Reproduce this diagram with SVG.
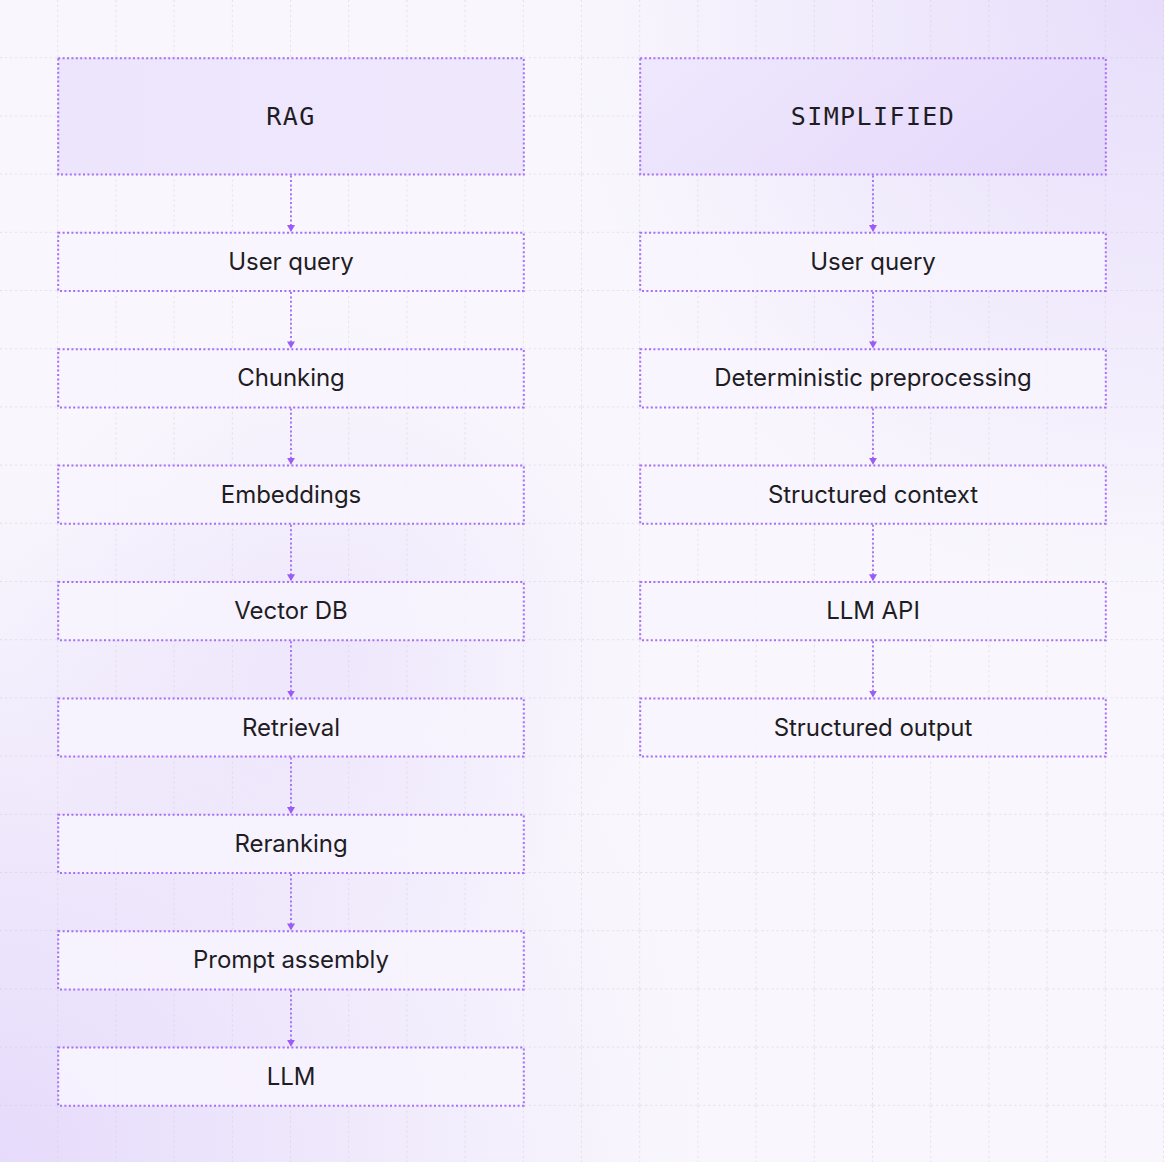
<svg xmlns="http://www.w3.org/2000/svg" width="1164" height="1162" viewBox="0 0 1164 1162">
<defs>
<radialGradient id="bgBL" cx="0" cy="1162" r="700" gradientUnits="userSpaceOnUse">
<stop offset="0" stop-color="#e6dbfb"/><stop offset="1" stop-color="#e6dbfb" stop-opacity="0"/>
</radialGradient>
<radialGradient id="bgTR" cx="1164" cy="0" r="600" gradientUnits="userSpaceOnUse">
<stop offset="0" stop-color="#e7ddfb"/><stop offset="1" stop-color="#e7ddfb" stop-opacity="0"/>
</radialGradient>
<radialGradient id="bgMid" cx="330" cy="640" r="320" gradientUnits="userSpaceOnUse">
<stop offset="0" stop-color="#efe8fc"/><stop offset="1" stop-color="#efe8fc" stop-opacity="0"/>
</radialGradient>
<linearGradient id="hdrL" x1="0" y1="0" x2="1" y2="0">
<stop offset="0" stop-color="#ede5fc"/><stop offset="1" stop-color="#efe8fd"/>
</linearGradient>
<linearGradient id="hdrR" x1="0" y1="0" x2="1" y2="0.3">
<stop offset="0" stop-color="#efe8fd"/><stop offset="1" stop-color="#e6dafb"/>
</linearGradient>
<pattern id="grid" width="58.2" height="58.2" patternUnits="userSpaceOnUse">
<path d="M58.2 0V58.2M0 58.2H58.2" fill="none" stroke="#ccc6d6" stroke-width="1" stroke-dasharray="2 3"/>
</pattern>
<marker id="arr" viewBox="0 0 7 8" refX="7" refY="4" markerWidth="7" markerHeight="8" markerUnits="userSpaceOnUse" orient="auto">
<path d="M0 0L7 4L0 8Z" fill="#9b5cf6"/>
</marker>
</defs>
<style>
.node rect{fill:#f8f5fe;fill-opacity:0.85;stroke:#a56ff7;stroke-width:2;stroke-dasharray:2 2.4}
.hdr rect{stroke:#a56ff7;stroke-width:2;stroke-dasharray:2 2.4}
.hdr text{font-family:"DejaVu Sans Mono","Liberation Mono",monospace;font-size:25px;letter-spacing:1.4px;fill:#1f1d24;text-anchor:middle}
.node text{font-family:Inter,"Liberation Sans",sans-serif;font-size:24px;letter-spacing:-0.05px;fill:#1f1d24;text-anchor:middle}
.conn line{stroke:#a06af6;stroke-width:1.8;stroke-dasharray:2 2.4;marker-end:url(#arr)}
</style>
<rect width="1164" height="1162" fill="#f9f7fd"/>
<rect width="1164" height="1162" fill="url(#bgMid)"/>
<rect width="1164" height="1162" fill="url(#bgBL)"/>
<rect width="1164" height="1162" fill="url(#bgTR)"/>
<rect width="1164" height="1162" fill="url(#grid)"/>

<g id="connectors" class="conn">
<line x1="291" y1="175.6" x2="291" y2="232"/>
<line x1="291" y1="292" x2="291" y2="348.4"/>
<line x1="291" y1="408.4" x2="291" y2="464.8"/>
<line x1="291" y1="524.8" x2="291" y2="581.2"/>
<line x1="291" y1="641.2" x2="291" y2="697.6"/>
<line x1="291" y1="757.6" x2="291" y2="814"/>
<line x1="291" y1="874" x2="291" y2="930.4"/>
<line x1="291" y1="990.4" x2="291" y2="1046.8"/>
<line x1="873" y1="175.6" x2="873" y2="232"/>
<line x1="873" y1="292" x2="873" y2="348.4"/>
<line x1="873" y1="408.4" x2="873" y2="464.8"/>
<line x1="873" y1="524.8" x2="873" y2="581.2"/>
<line x1="873" y1="641.2" x2="873" y2="697.6"/>
</g>

<g id="rag-header" class="hdr"><rect x="58.2" y="58.2" width="465.6" height="116.4" fill="url(#hdrL)"/><text x="291" y="125">RAG</text></g>
<g id="simplified-header" class="hdr"><rect x="640.2" y="58.2" width="465.6" height="116.4" fill="url(#hdrR)"/><text x="873" y="125">SIMPLIFIED</text></g>

<g id="rag-user-query" class="node"><rect x="58.2" y="232.8" width="465.6" height="58.2"/><text x="291" y="270">User query</text></g>
<g id="rag-chunking" class="node"><rect x="58.2" y="349.2" width="465.6" height="58.2"/><text x="291" y="386.4">Chunking</text></g>
<g id="rag-embeddings" class="node"><rect x="58.2" y="465.6" width="465.6" height="58.2"/><text x="291" y="502.8">Embeddings</text></g>
<g id="rag-vector-db" class="node"><rect x="58.2" y="582" width="465.6" height="58.2"/><text x="291" y="619.2">Vector DB</text></g>
<g id="rag-retrieval" class="node"><rect x="58.2" y="698.4" width="465.6" height="58.2"/><text x="291" y="735.6">Retrieval</text></g>
<g id="rag-reranking" class="node"><rect x="58.2" y="814.8" width="465.6" height="58.2"/><text x="291" y="852">Reranking</text></g>
<g id="rag-prompt-assembly" class="node"><rect x="58.2" y="931.2" width="465.6" height="58.2"/><text x="291" y="968.4">Prompt assembly</text></g>
<g id="rag-llm" class="node"><rect x="58.2" y="1047.6" width="465.6" height="58.2"/><text x="291" y="1084.8">LLM</text></g>

<g id="s-user-query" class="node"><rect x="640.2" y="232.8" width="465.6" height="58.2"/><text x="873" y="270">User query</text></g>
<g id="s-deterministic" class="node"><rect x="640.2" y="349.2" width="465.6" height="58.2"/><text x="873" y="386.4">Deterministic preprocessing</text></g>
<g id="s-structured-context" class="node"><rect x="640.2" y="465.6" width="465.6" height="58.2"/><text x="873" y="502.8">Structured context</text></g>
<g id="s-llm-api" class="node"><rect x="640.2" y="582" width="465.6" height="58.2"/><text x="873" y="619.2">LLM API</text></g>
<g id="s-structured-output" class="node"><rect x="640.2" y="698.4" width="465.6" height="58.2"/><text x="873" y="735.6">Structured output</text></g>
</svg>
